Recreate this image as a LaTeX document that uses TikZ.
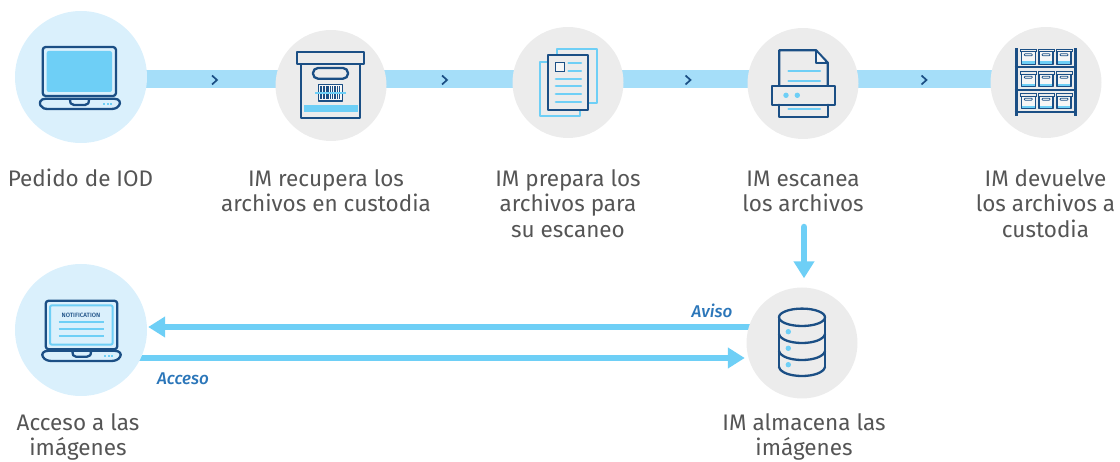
\documentclass[tikz,border=0pt]{standalone}
\usepackage{fontspec}
\setmainfont{Fira Sans}
\newfontfamily\flowfont{Fira Sans Medium Italic}
\newfontfamily\notefont{Fira Sans Medium}
\usetikzlibrary{arrows.meta,backgrounds}
\definecolor{navy}{HTML}{1B4F85}
\definecolor{sky}{HTML}{6ECFF6}
\definecolor{barblue}{HTML}{A5DEF9}
\definecolor{pale}{HTML}{DAF0FC}
\definecolor{greyc}{HTML}{ECECEC}
\definecolor{txt}{HTML}{555555}
\definecolor{lbl}{HTML}{2B76B9}
\newcommand{\firstline}{\rule{0pt}{17pt}}
\tikzset{
  bluecirc/.style={circle,fill=pale,minimum size=132pt,inner sep=0pt},
  greycirc/.style={circle,fill=greyc,minimum size=111pt,inner sep=0pt},
  barline/.style={draw=barblue,line width=18pt},
  flow/.style={draw=sky,line width=6.5pt,-{Triangle[length=17pt,width=20pt]}},
  chev/.style={draw=navy,line width=1.7pt,line join=miter},
  nv/.style={draw=navy,line width=2.3pt,line join=round,line cap=round},
  nvt/.style={draw=navy,line width=1.1pt,line join=round},
  sk/.style={draw=sky,line width=2.2pt,line cap=round},
  step label/.style={font=\fontsize{22.5}{25.5}\selectfont,text=txt,align=center,anchor=north,inner sep=0pt},
  flow label/.style={font=\fontsize{17}{20}\flowfont,text=lbl,inner sep=0pt},
}
\begin{document}
\begin{tikzpicture}[x=1pt,y=-1pt]
\useasboundingbox (0,0) rectangle (1120,462);
% circles
\node[bluecirc] (c1) at (81,77) {};
\node[greycirc] (c2) at (331,85.5) {};
\node[greycirc] (c3) at (568,82.5) {};
\node[greycirc] (c4) at (803,83.5) {};
\node[greycirc] (c5) at (1046,82.5) {};
\node[bluecirc] (c7) at (81,330) {};
\node[greycirc] (c6) at (802,343) {};
% labels
\node[step label] (l1) at (80.5,169) {\firstline Pedido de IOD};
\node[step label] (l2) at (326,169) {\firstline IM recupera los\\archivos en custodia};
\node[step label] (l3) at (568,169) {\firstline IM prepara los\\archivos para\\su escaneo};
\node[step label] (l4) at (803,169) {\firstline IM escanea\\los archivos};
\node[step label] (l5) at (1045.5,169) {\firstline IM devuelve\\los archivos a\\custodia};
\node[step label] (l7) at (78,413) {\firstline Acceso a las\\imágenes};
\node[step label] (l6) at (804,413) {\firstline IM almacena las\\imágenes};
\node[flow label] (fa) at (712,311) {Aviso};
\node[flow label] (fb) at (183,379) {Acceso};
% connectors
\coordinate (bary) at (0,79);
\coordinate (av) at (0,327);
\coordinate (ac) at (0,358);
\coordinate (dn) at (804,227);
\begin{scope}[on background layer]
\draw[barline] (c1 |- bary) -- (c2 |- bary);
\draw[barline] (c2 |- bary) -- (c3 |- bary);
\draw[barline] (c3 |- bary) -- (c4 |- bary);
\draw[barline] (c4 |- bary) -- (c5 |- bary);
\draw[flow] (c6 |- av) -- ([xshift=1pt]c7.east |- av);
\draw[flow] (c7 |- ac) -- ([xshift=-1.5pt]c6.west |- ac);
\end{scope}
\draw[flow,line cap=round] (dn) -- ([xshift=2pt,yshift=9pt]c6.north);
% chevrons
\foreach \cx in {214.5,444.5,688,924}{
  \draw[chev] (\cx-2.5,75.5) -- (\cx+2.5,80) -- (\cx-2.5,84.5);
}
% laptop 1
\fill[sky,rounded corners=2pt] (46.7,51) rectangle (112,92);
\draw[nv,rounded corners=3pt] (42.7,96) -- (42.7,47) -- (116,47) -- (116,96) -- cycle;
\draw[nv] (46,98.7) -- (114,98.7) .. controls (120,98.7) and (121,103) .. (119,105.5) .. controls (117,108.5) and (114,109) .. (110,109) -- (49,109) .. controls (45,109) and (42,108.5) .. (40.5,105.5) .. controls (39,103) and (40,98.7) .. (46,98.7) -- cycle;
\draw[nv] (70,99) .. controls (70,103) and (71,105) .. (74,105) -- (85,105) .. controls (88,105) and (89,103) .. (89,99);
\foreach \dx in {104,107.5,111}{\fill[sky] (\dx-1,103) rectangle (\dx+1,105);}
% box
\draw[nv,line cap=butt] (301,64) rectangle (360,118);
\fill[sky] (303.7,105) rectangle (358,112.3);
\draw[nv] (297,52) rectangle (364,63.7);
\draw[nv,rounded corners=5pt] (313,68) rectangle (348,78.7);
\draw[nvt,fill=white!60!greyc] (318.5,84.5) rectangle (342.5,101);
\foreach \bx/\bw in {321/1.2,323/.6,324.5/1,326.5/.6,328/1.4,330.5/.6,332/1,334/.6,335.5/1.2,337.7/.6,339.2/1}{
  \draw[navy,line width=\bw pt] (\bx,86.5) -- (\bx,99);
}
\draw[sky,line width=1.4pt] (315,93) -- (346,93);
% documents
\draw[sky,line width=2.2pt,line join=round] (556.7,49) rectangle (596.7,103);
\draw[sky,line width=2.2pt,line join=round] (540,62) rectangle (580,116.3);
\draw[nv,fill=greyc] (548,55.3) rectangle (588,109.7);
\draw[navy,line width=1.6pt,fill=white!60!greyc] (555.3,62.7) rectangle (564.3,71.7);
\foreach \ly in {63,70.7}{\draw[sk] (568.5,\ly) -- (581,\ly);}
\foreach \ly in {78.7,86.3,94,102}{\draw[sk] (555.8,\ly) -- (581,\ly);}
% printer
\draw[nv,fill=greyc] (779.3,86) -- (779.3,50.3) -- (816,50.3) -- (827.7,62.7) -- (827.7,86);
\draw[nv] (816,50.3) -- (816,62.7) -- (827.7,62.7);
\fill[white!55!greyc] (817.2,53) -- (817.2,61.5) -- (825,61.5) -- cycle;
\draw[nv,fill=greyc] (771.7,86) rectangle (834.7,104.7);
\draw[nv] (779.3,104.7) -- (779.3,117) -- (827.7,117) -- (827.7,104.7);
\foreach \ly in {71.3,81,109}{\draw[sk] (788.5,\ly) -- (820,\ly);}
\fill[sky] (786,95.3) circle (2.7);
\fill[sky] (797.3,95.3) circle (2.7);
% shelves
\foreach \rowy in {49.3,71.7,93.7}{
  \foreach \colx in {1028.3,1046,1064}{
    \fill[white!50!greyc] (\colx-7,\rowy+2) rectangle (\colx+7,\rowy+15);
    \fill[sky] (\colx-7,\rowy+12) rectangle (\colx+7,\rowy+15);
    \draw[nvt] (\colx-7,\rowy+2) rectangle (\colx+7,\rowy+15);
    \draw[draw=navy,line width=1pt,fill=greyc] (\colx-8,\rowy) rectangle (\colx+8,\rowy+2.4);
    \draw[draw=navy,line width=.7pt,rounded corners=.8pt] (\colx-4,\rowy+4.5) rectangle (\colx+4,\rowy+6.5);
  }
}
\draw[navy,line width=3pt] (1016.3,48.3) -- (1016.3,116);
\draw[navy,line width=3pt] (1075.3,48.3) -- (1075.3,116);
\draw[navy,line width=2.2pt] (1014.5,67) -- (1077,67);
\draw[navy,line width=2.2pt] (1014.5,89.7) -- (1077,89.7);
\draw[navy,line width=1.3pt] (1014.5,112) -- (1077,112);
% laptop 2
\draw[draw=sky,line width=2pt,rounded corners=2pt] (50,305.3) rectangle (112.7,344.7);
\draw[nv,rounded corners=3pt] (45.7,349.3) -- (45.7,300.7) -- (117.3,300.7) -- (117.3,349.3) -- cycle;
\node[font=\fontsize{6.2}{7}\notefont,text=navy,inner sep=0pt] (nt) at (81,315) {NOTIFICATION};
\foreach \ly in {321.7,328.7,335.7}{\draw[sky,line width=2pt] (58.7,\ly) -- (104,\ly);}
\draw[nv] (49,350.7) -- (114,350.7) .. controls (120,350.7) and (122,354) .. (120,357) .. controls (118,360) and (115,361) .. (111,361) -- (52,361) .. controls (48,361) and (45,360) .. (43,357) .. controls (41,354) and (43,350.7) .. (49,350.7) -- cycle;
\draw[nv] (72.5,351) .. controls (72.5,355) and (73.5,356.7) .. (76,356.7) -- (87,356.7) .. controls (90,356.7) and (91,355) .. (91,351);
\foreach \dx in {105,108.5,112}{\fill[sky] (\dx-1,355) rectangle (\dx+1,357);}
% database
\draw[nv] (802,317.3) ellipse (23 and 8.7);
\draw[nv] (779,317.3) -- (779,367);
\draw[nv] (825,317.3) -- (825,367);
\draw[nv] (779,334) .. controls (782,346) and (822,346) .. (825,334);
\draw[nv] (779,351) .. controls (782,363) and (822,363) .. (825,351);
\draw[nv] (779,367) .. controls (782,379) and (822,379) .. (825,367);
\fill[sky] (788.3,331.7) circle (2.7);
\fill[sky] (788.3,348.3) circle (2.7);
\fill[sky] (788.3,364.7) circle (2.7);
\end{tikzpicture}
\end{document}
